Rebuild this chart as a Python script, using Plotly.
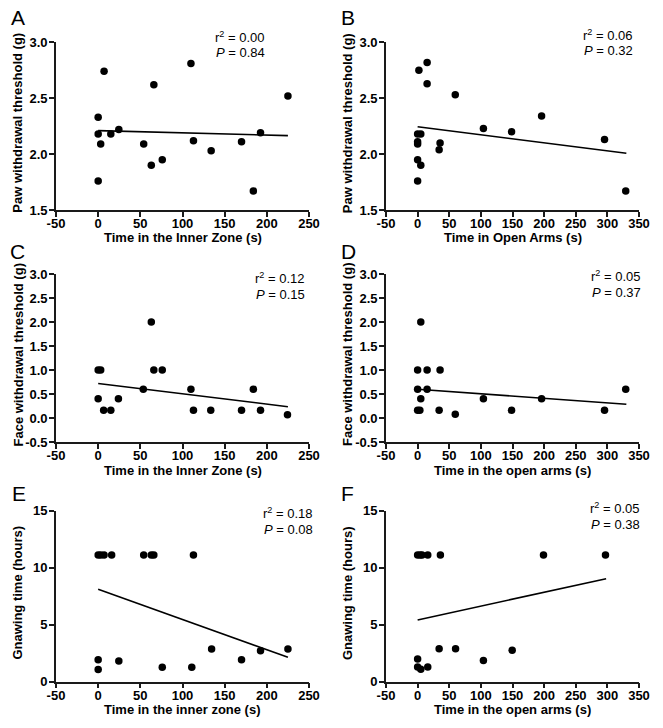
import plotly.graph_objects as go

W, H = 663, 728

# ---------------- data ----------------
a_x = [0, 0, 0, 3, 7, 15, 24.5, 54, 63, 66, 76, 110, 113, 134, 170, 184, 192.5, 225]
a_y = [2.33, 2.18, 1.76, 2.09, 2.74, 2.18, 2.22, 2.09, 1.90, 2.62, 1.95, 2.81, 2.12, 2.03, 2.11, 1.67, 2.19, 2.52]
a_fit_x = [0, 225]
a_fit_y = [2.21, 2.165]

b_x = [0, 0, 0, 0, 0, 2, 5, 5, 15, 15, 34, 35.5, 59.5, 104, 148.5, 196, 295.5, 329]
b_y = [1.76, 1.95, 2.09, 2.11, 2.18, 2.75, 2.18, 1.90, 2.82, 2.63, 2.04, 2.10, 2.53, 2.23, 2.20, 2.34, 2.13, 1.67]
b_fit_x = [0, 330]
b_fit_y = [2.245, 2.007]

c_x = [0, 3, 0, 6.5, 15, 24, 53.5, 63, 66, 76, 110, 113, 133.5, 170, 184, 192.5, 224.5]
c_y = [1.0, 1.0, 0.4, 0.16, 0.16, 0.4, 0.6, 2.0, 1.0, 1.0, 0.6, 0.16, 0.16, 0.16, 0.6, 0.16, 0.07]
c_fit_x = [0, 225]
c_fit_y = [0.72, 0.236]

d_x = [0, 0, 0, 3.5, 5, 5, 15, 15, 34, 35.5, 59.5, 104, 148.5, 196, 295.5, 329]
d_y = [1.0, 0.6, 0.16, 0.16, 2.0, 0.4, 1.0, 0.6, 0.16, 1.0, 0.08, 0.4, 0.16, 0.4, 0.16, 0.6]
d_fit_x = [0, 330]
d_fit_y = [0.60, 0.285]

e_x = [0, 3, 7, 16, 54, 63, 66, 113, 0, 0, 24.5, 76, 111, 134.5, 170, 192.5, 225]
e_y = [11.1, 11.1, 11.1, 11.1, 11.1, 11.1, 11.1, 11.1, 1.9, 1.05, 1.8, 1.25, 1.25, 2.85, 1.92, 2.7, 2.85]
e_fit_x = [0, 225]
e_fit_y = [8.11, 2.13]

f_x = [0, 4, 7, 16, 36, 199, 297, 0, 0, 5, 16, 34, 60, 104, 149.5]
f_y = [11.1, 11.1, 11.1, 11.1, 11.1, 11.1, 11.1, 1.97, 1.28, 1.08, 1.27, 2.88, 2.88, 1.84, 2.74]
f_fit_x = [0, 298]
f_fit_y = [5.4, 9.03]

letters = ["A", "B", "C", "D", "E", "F"]
r2_text = ["0.00", "0.06", "0.12", "0.05", "0.18", "0.05"]
p_text = ["0.84", "0.32", "0.15", "0.37", "0.08", "0.38"]
x_titles = ["Time in the Inner Zone (s)", "Time in Open Arms (s)",
            "Time in the Inner Zone (s)", "Time in the open arms (s)",
            "Time in the inner zone (s)", "Time in the open arms (s)"]
y_titles = ["Paw withdrawal threshold (g)", "Paw withdrawal threshold (g)",
            "Face withdrawal threshold (g)", "Face withdrawal threshold (g)",
            "Gnawing time (hours)", "Gnawing time (hours)"]

x_ticks_inner = [-50, 0, 50, 100, 150, 200, 250]
x_ticks_open = [-50, 0, 50, 100, 150, 200, 250, 300, 350]
y_ticks_paw = [1.5, 2.0, 2.5, 3.0]
y_ticks_face = [-0.5, 0.0, 0.5, 1.0, 1.5, 2.0, 2.5, 3.0]
y_ticks_gnaw = [0, 5, 10, 15]

x_tickss = [x_ticks_inner, x_ticks_open] * 3
y_tickss = [y_ticks_paw, y_ticks_paw, y_ticks_face, y_ticks_face, y_ticks_gnaw, y_ticks_gnaw]
y_fmt = ["{:.1f}", "{:.1f}", "{:.1f}", "{:.1f}", "{:d}", "{:d}"]

xs = [a_x, b_x, c_x, d_x, e_x, f_x]
ys = [a_y, b_y, c_y, d_y, e_y, f_y]
fxs = [a_fit_x, b_fit_x, c_fit_x, d_fit_x, e_fit_x, f_fit_x]
fys = [a_fit_y, b_fit_y, c_fit_y, d_fit_y, e_fit_y, f_fit_y]

# ---------------- layout geometry (pixels) ----------------
col_x = [(56, 309), (386, 639)]
row_y = [(42.3, 210), (274, 442), (510.7, 681.5)]
letter_pos = [(18, 17.5), (347.5, 17.5), (17.5, 251.5), (348.5, 251.5), (18.5, 493.5), (347.5, 493.5)]
stat_pos = [(267, 37, 53), (635, 35, 51), (307, 278, 294), (643, 276, 292), (315, 513, 529), (642, 508, 524)]
ytitle_x = [17.5, 347]


def px(p):
    return p / W


def py(p):
    return 1 - p / H


FONT = "Liberation Sans, Arial, sans-serif"
fig = go.Figure()
annotations = []
layout = {}
for i in range(6):
    r, c = divmod(i, 2)
    n = "" if i == 0 else str(i + 1)
    x0, x1 = col_x[c]
    y0, y1 = row_y[r]
    fig.add_trace(go.Scatter(x=xs[i], y=ys[i], mode="markers", xaxis="x" + n, yaxis="y" + n,
                             marker=dict(color="black", size=7.5), showlegend=False, cliponaxis=False))
    fig.add_trace(go.Scatter(x=fxs[i], y=fys[i], mode="lines", xaxis="x" + n, yaxis="y" + n,
                             line=dict(color="black", width=1.6), showlegend=False))
    common = dict(showline=True, linecolor="#1a1a1a", linewidth=1.7, ticks="outside", ticklen=5,
                  tickwidth=1.6, tickcolor="#1a1a1a", showgrid=False, zeroline=False,
                  tickfont=dict(family=FONT, size=13, color="black"))
    xt = x_tickss[i]
    yt = y_tickss[i]
    layout["xaxis" + n] = dict(domain=[px(x0), px(x1)], anchor="y" + n, range=[xt[0], xt[-1]],
                               tickmode="array", tickvals=xt,
                               ticktext=["<b>%d</b>" % v for v in xt],
                               ticklabelstandoff=-4, **common)
    layout["yaxis" + n] = dict(domain=[py(y1), py(y0)], anchor="x" + n, range=[yt[0], yt[-1]],
                               tickmode="array", tickvals=yt,
                               ticktext=["<b>" + y_fmt[i].format(v) + "</b>" for v in yt],
                               ticklabelstandoff=-1, **common)
    # axis titles
    annotations.append(dict(text="<b>" + x_titles[i] + "</b>", xref="paper", yref="paper",
                            x=px((x0 + x1) / 2), y=py(y1 + 28), xanchor="center", yanchor="middle",
                            showarrow=False, font=dict(family=FONT, size=13, color="black")))
    annotations.append(dict(text="<b>" + y_titles[i] + "</b>", xref="paper", yref="paper",
                            x=px(ytitle_x[c]), y=py((y0 + y1) / 2 - 3), xanchor="center",
                            yanchor="middle", textangle=-90, showarrow=False,
                            font=dict(family=FONT, size=13, color="black")))
    # panel letter
    lx, ly = letter_pos[i]
    annotations.append(dict(text=letters[i], xref="paper", yref="paper", x=px(lx), y=py(ly),
                            xanchor="center", yanchor="middle", showarrow=False,
                            font=dict(family=FONT, size=21, color="black")))
    # stats
    sx, sy1, sy2 = stat_pos[i]
    annotations.append(dict(text="r<sup>2</sup> = " + r2_text[i], xref="paper", yref="paper",
                            x=px(sx), y=py(sy1), xanchor="right", yanchor="middle", showarrow=False,
                            font=dict(family=FONT, size=13, color="black")))
    annotations.append(dict(text="<i>P</i> = " + p_text[i], xref="paper", yref="paper",
                            x=px(sx), y=py(sy2), xanchor="right", yanchor="middle", showarrow=False,
                            font=dict(family=FONT, size=13, color="black")))

fig.update_layout(width=W, height=H, margin=dict(l=0, r=0, t=0, b=0, pad=0, autoexpand=False),
                  paper_bgcolor="white", plot_bgcolor="white", annotations=annotations, **layout)
fig.write_html("out.html", config={"displayModeBar": False},
               post_script="document.body.style.margin='0';document.body.style.overflow='hidden';")
